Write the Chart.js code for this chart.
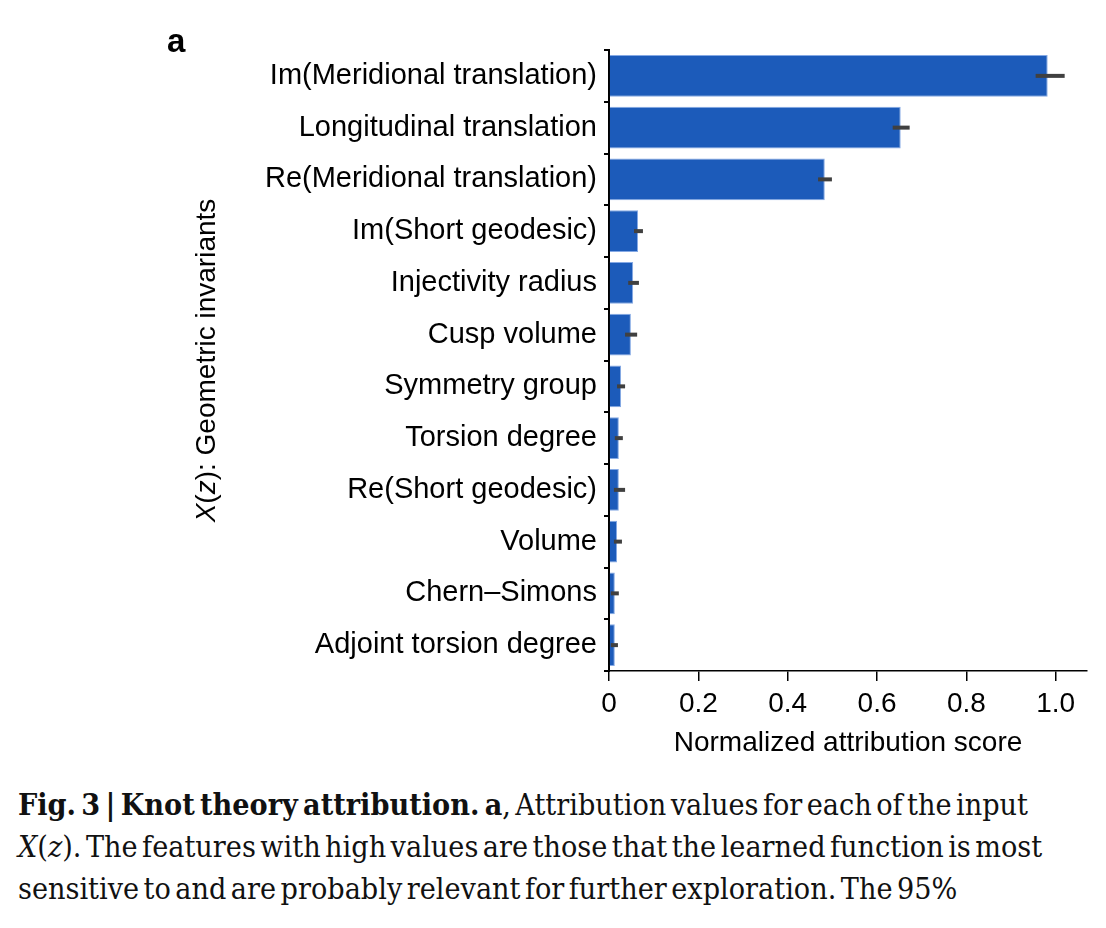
<!DOCTYPE html>
<html>
<head>
<meta charset="utf-8">
<script src="https://cdn.jsdelivr.net/npm/chart.js@4.4.1/dist/chart.umd.min.js"></script>
<style>
  html, body { margin: 0; padding: 0; background: #fff; }
  #wrap { position: relative; width: 1106px; height: 928px; }
  #plot { position: absolute; left: 0; top: 0; width: 1106px; height: 780px; }
  #panel { position: absolute; left: 167px; top: 22px; font: bold 33px 'Liberation Sans', Arial, sans-serif; color: #000; }
  #caption {
    position: absolute; left: 18px; top: 784px;
    font-family: 'DejaVu Serif Condensed', 'DejaVu Serif', serif; font-stretch: condensed;
    font-size: 29px; line-height: 42px; word-spacing: -4px;
    color: #111; white-space: nowrap; transform-origin: 0 0;
  }
  #caption b { font-weight: bold; }
</style>
</head>
<body>
<div id="wrap">
  <div id="plot"><canvas id="chart"></canvas></div>
  <div id="panel">a</div>
  <div id="caption">
    <div><b>Fig. 3 | Knot theory attribution. a</b>, Attribution values for each of the input</div>
    <div><i>X</i>(<i>z</i>). The features with high values are those that the learned function is most</div>
    <div>sensitive to and are probably relevant for further exploration. The 95%</div>
  </div>
</div>
<script>
'use strict';

// ── Data ────────────────────────────────────────────────────────────────────
const FEATURES = [
  'Im(Meridional translation)',
  'Longitudinal translation',
  'Re(Meridional translation)',
  'Im(Short geodesic)',
  'Injectivity radius',
  'Cusp volume',
  'Symmetry group',
  'Torsion degree',
  'Re(Short geodesic)',
  'Volume',
  'Chern–Simons',
  'Adjoint torsion degree',
];
const SCORES   = [0.982, 0.653, 0.483, 0.065, 0.054, 0.049, 0.027, 0.022, 0.022, 0.018, 0.013, 0.013];
const CI_LOW   = [0.955, 0.635, 0.468, 0.056, 0.043, 0.036, 0.018, 0.013, 0.011, 0.011, 0.004, 0.004];
const CI_HIGH  = [1.020, 0.673, 0.499, 0.076, 0.067, 0.063, 0.036, 0.031, 0.036, 0.029, 0.022, 0.020];
const X_TICKS  = [0, 0.2, 0.4, 0.6, 0.8, 1.0];

const FONT = "'Liberation Sans', Arial, Helvetica, sans-serif";
const FONT_SIZE = 28;
const BAR_BLUE = '#1c5bba';

// ── Error bars (95% CI) drawn through the chart's scales ───────────────────
const errorBars = {
  id: 'errorBars',
  afterDatasetsDraw(chart) {
    const { ctx, scales: { x, y } } = chart;
    ctx.save();
    ctx.strokeStyle = '#404040';
    ctx.lineWidth = 4;
    ctx.lineCap = 'butt';
    FEATURES.forEach((_, i) => {
      const py = y.getPixelForValue(i);
      ctx.beginPath();
      ctx.moveTo(x.getPixelForValue(CI_LOW[i]), py);
      ctx.lineTo(x.getPixelForValue(CI_HIGH[i]), py);
      ctx.stroke();
    });
    ctx.restore();
  },
};

// ── Axis titles (y title has italic X(z)) ─────────────────────────────────
const axisTitles = {
  id: 'axisTitles',
  afterDraw(chart) {
    const { ctx, chartArea: a } = chart;
    ctx.save();
    ctx.fillStyle = '#000';
    ctx.textBaseline = 'middle';

    // x title
    ctx.font = `${FONT_SIZE}px ${FONT}`;
    ctx.textAlign = 'center';
    ctx.fillText('Normalized attribution score', (a.left + a.right) / 2, a.bottom + 72);

    // y title, rotated
    const parts = [
      { t: 'X', f: `italic ${FONT_SIZE}px ${FONT}` },
      { t: '(', f: `${FONT_SIZE}px ${FONT}` },
      { t: 'z', f: `italic ${FONT_SIZE}px ${FONT}` },
      { t: '): Geometric invariants', f: `${FONT_SIZE}px ${FONT}` },
    ];
    let total = 0;
    parts.forEach(p => { ctx.font = p.f; p.w = ctx.measureText(p.t).width; total += p.w; });
    ctx.translate(207, (a.top + a.bottom) / 2);
    ctx.rotate(-Math.PI / 2);
    ctx.textAlign = 'left';
    let cx = -total / 2;
    parts.forEach(p => { ctx.font = p.f; ctx.fillText(p.t, cx, 0); cx += p.w; });
    ctx.restore();
  },
};

const ctx = document.getElementById('chart').getContext('2d');
new Chart(ctx, {
  type: 'bar',
  data: {
    labels: FEATURES,
    datasets: [{
      data: SCORES,
      backgroundColor: BAR_BLUE,
      borderColor: 'rgba(120, 160, 225, 0.9)',
      borderWidth: 1,
      barPercentage: 0.81,
      categoryPercentage: 1,
    }],
  },
  plugins: [errorBars, axisTitles],
  options: {
    indexAxis: 'y',
    responsive: true,
    maintainAspectRatio: false,
    animation: false,
    layout: { padding: { top: 50, right: 19, left: 0, bottom: 0 } },
    plugins: {
      legend: { display: false },
      tooltip: { enabled: false },
    },
    scales: {
      x: {
        min: 0,
        max: 1.07,
        afterBuildTicks: (s) => { s.ticks = X_TICKS.map(v => ({ value: v })); },
        afterFit: (s) => { s.height = 109; },
        border: { display: true, color: '#000', width: 1.5 },
        grid: { display: true, drawOnChartArea: false, drawTicks: true, tickLength: 10, color: '#000', lineWidth: 1.5 },
        ticks: {
          color: '#000',
          padding: 6,
          maxRotation: 0,
          font: { family: FONT, size: FONT_SIZE },
          callback: (v) => v === 0 ? '0' : Number(v).toFixed(1),
        },
      },
      y: {
        afterFit: (s) => { s.width = 609; },
        border: { display: true, color: '#000', width: 2 },
        grid: { display: true, drawOnChartArea: false, drawTicks: true, tickLength: 5, color: '#000', lineWidth: 2 },
        ticks: {
          color: '#000',
          padding: 7,
          autoSkip: false,
          font: { family: FONT, size: 29 },
        },
      },
    },
  },
});

// fit caption line 1 to the width seen in the figure
const cap = document.getElementById('caption');
const first = cap.firstElementChild;
first.style.display = 'inline-block';
const w = first.getBoundingClientRect().width;
first.style.display = '';
cap.style.transform = `scaleX(${(1010 / w).toFixed(4)})`;
</script>
</body>
</html>
